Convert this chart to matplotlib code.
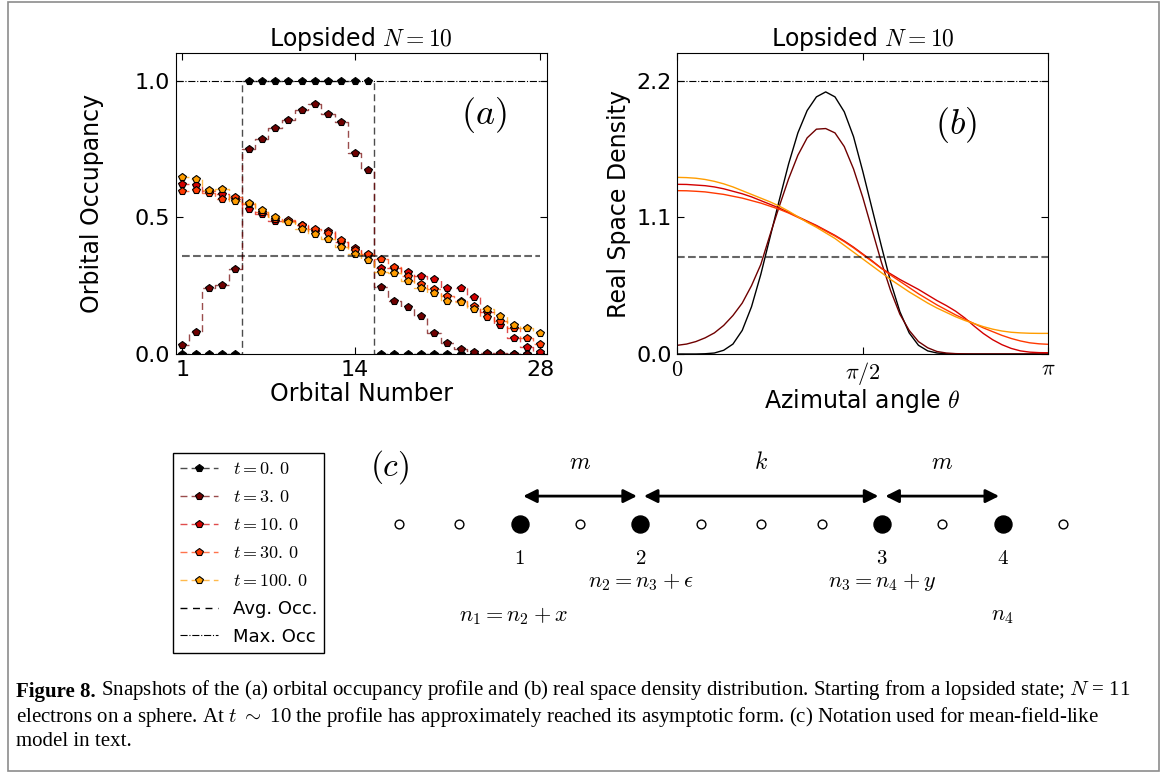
import numpy as np
import matplotlib
matplotlib.use('Agg')
from matplotlib import pyplot as plt
from matplotlib.lines import Line2D
from matplotlib.patches import Rectangle

plt.rcParams['mathtext.fontset'] = 'cm'
plt.rcParams['xtick.direction'] = 'in'
plt.rcParams['ytick.direction'] = 'in'
plt.rcParams['xtick.top'] = True
plt.rcParams['ytick.right'] = True

# === DATA ===
time_labels = ['0.0', '3.0', '10.0', '30.0', '100.0']
colors = ['#000000', '#6f0000', '#d30000', '#ff3900', '#ff9d00']

# panel (a): orbital occupancy per orbital (orbitals 1..28)
orbitals = np.arange(1, 29)
occ_t0 = [0, 0, 0, 0, 0, 1, 1, 1, 1, 1, 1, 1, 1, 1, 1,
          0, 0, 0, 0, 0, 0, 0, 0, 0, 0, 0, 0, 0]
occ_t3 = [0.032, 0.080, 0.243, 0.251, 0.311, 0.749, 0.788, 0.826, 0.855, 0.893,
          0.914, 0.879, 0.849, 0.737, 0.673, 0.244, 0.195, 0.173, 0.138, 0.076,
          0.040, 0.017, 0.007, 0.003, 0.002, 0.001, 0.001, 0.001]
occ_t10 = [0.621, 0.620, 0.595, 0.585, 0.567, 0.529, 0.512, 0.487, 0.487, 0.471,
           0.450, 0.451, 0.410, 0.389, 0.362, 0.313, 0.313, 0.301, 0.285, 0.273,
           0.243, 0.243, 0.207, 0.155, 0.105, 0.060, 0.025, 0.006]
occ_t30 = [0.596, 0.600, 0.590, 0.566, 0.573, 0.550, 0.520, 0.494, 0.490, 0.471,
           0.457, 0.443, 0.416, 0.380, 0.366, 0.346, 0.317, 0.287, 0.256, 0.237,
           0.213, 0.195, 0.174, 0.135, 0.120, 0.094, 0.057, 0.037]
occ_t100 = [0.649, 0.641, 0.600, 0.603, 0.561, 0.554, 0.527, 0.502, 0.483, 0.456,
            0.439, 0.421, 0.393, 0.367, 0.344, 0.301, 0.295, 0.266, 0.241, 0.222,
            0.195, 0.190, 0.165, 0.163, 0.138, 0.107, 0.094, 0.076]
avg_occ = 0.357
max_occ = 1.0

# panel (b): real space density sampled at theta = k*pi/40
theta = np.linspace(0, np.pi, 41)
dens_t0 = [0, 0, 0, 0.002, 0.008, 0.03, 0.08, 0.19, 0.38, 0.64,
           0.94, 1.24, 1.53, 1.78, 1.96, 2.07, 2.11, 2.07, 1.95, 1.75,
           1.47, 1.17, 0.87, 0.58, 0.34, 0.17, 0.07, 0.025, 0.008, 0.002,
           0, 0, 0, 0, 0, 0, 0, 0, 0, 0, 0]
dens_t3 = [0.07, 0.08, 0.10, 0.13, 0.17, 0.23, 0.31, 0.41, 0.55, 0.72,
           0.96, 1.19, 1.41, 1.60, 1.74, 1.81, 1.815, 1.78, 1.67, 1.49,
           1.26, 1.00, 0.74, 0.51, 0.32, 0.19, 0.10, 0.05, 0.02, 0.008,
           0.003, 0.001, 0, 0, 0, 0, 0, 0, 0, 0, 0]
dens_t10 = [1.366, 1.365, 1.36, 1.355, 1.345, 1.33, 1.31, 1.29, 1.265, 1.235,
            1.205, 1.175, 1.14, 1.105, 1.07, 1.035, 0.995, 0.955, 0.91, 0.86,
            0.805, 0.75, 0.69, 0.645, 0.60, 0.56, 0.52, 0.475, 0.43, 0.39,
            0.345, 0.29, 0.225, 0.165, 0.115, 0.075, 0.045, 0.025, 0.015, 0.011,
            0.01]
dens_t30 = [1.315, 1.314, 1.31, 1.305, 1.295, 1.285, 1.27, 1.255, 1.235, 1.215,
            1.19, 1.165, 1.135, 1.10, 1.065, 1.03, 0.99, 0.95, 0.905, 0.855,
            0.80, 0.745, 0.69, 0.635, 0.585, 0.535, 0.485, 0.44, 0.395, 0.355,
            0.315, 0.28, 0.245, 0.21, 0.18, 0.15, 0.125, 0.105, 0.09, 0.082,
            0.078]
dens_t100 = [1.422, 1.42, 1.415, 1.405, 1.39, 1.37, 1.345, 1.315, 1.285, 1.255,
             1.225, 1.19, 1.15, 1.105, 1.06, 1.02, 0.975, 0.93, 0.875, 0.82,
             0.765, 0.71, 0.655, 0.60, 0.55, 0.50, 0.455, 0.41, 0.37, 0.335,
             0.30, 0.27, 0.245, 0.22, 0.20, 0.185, 0.175, 0.17, 0.167, 0.166,
             0.166]
avg_dens = 0.784
max_dens = 2.2

# panel (c): notation sketch
n_sites = 12
filled_sites = [2, 4, 8, 10]
site_labels = ['1', '2', '3', '4']
spans = [(2, 4, 'm'), (4, 8, 'k'), (8, 10, 'm')]
relations = [(4, -1.93, r'$n_2=n_3+\epsilon$'), (8, -1.93, r'$n_3=n_4+y$'),
             (1.9, -3.07, r'$n_1=n_2+x$'), (10, -3.07, r'$n_4$')]

occ_series = [occ_t0, occ_t3, occ_t10, occ_t30, occ_t100]
dens_series = [dens_t0, dens_t3, dens_t10, dens_t30, dens_t100]

W, H = 1168, 774
fig = plt.figure(figsize=(W / 100, H / 100), dpi=100)

# outer frame
fig.patches.append(Rectangle((8 / W, 3 / H), 1151 / W, 769 / H, transform=fig.transFigure,
                             fill=False, edgecolor='#8c8c8c', linewidth=1.2))

# === PANEL (a) ===
ax_a = fig.add_axes([175.7 / W, 1 - 354 / H, 371 / W, 300.6 / H])
handles = []
for occ, col, lab in zip(occ_series, colors, time_labels):
    rgba = matplotlib.colors.to_rgba(col, 0.7)
    ln, = ax_a.plot(orbitals, occ, drawstyle='steps-mid', linestyle=(0, (5, 3)),
                    linewidth=1.0, color=rgba, marker='p', markersize=6,
                    markerfacecolor=col, markeredgecolor='k', markeredgewidth=0.8)
    handles.append(ln)
ax_a.hlines(avg_occ, 1, 28, colors='k', linestyles='--', linewidth=1.5, alpha=0.6)
ax_a.axhline(max_occ, color='k', linestyle='-.', linewidth=0.8)
ax_a.set_xlim(0.5, 28.5)
ax_a.set_ylim(0, 1.1 * max_occ)
ax_a.set_xticks([1, 14, 28])
ax_a.set_yticks([0, 0.5, 1.0])
ax_a.set_yticklabels(['0.0', '0.5', '1.0'])
ax_a.set_xlabel('Orbital Number', fontsize=17, labelpad=2)
ax_a.set_ylabel('Orbital Occupancy', fontsize=17, labelpad=22)
ax_a.set_title(r'Lopsided $N=10$', fontsize=17, pad=4)
ax_a.text(0.83, 0.795, r'$(a)$', transform=ax_a.transAxes, fontsize=26,
          ha='center', va='center')
ax_a.tick_params(labelsize=16, length=5, width=0.8, pad=4)

# === PANEL (b) ===
ax_b = fig.add_axes([677.3 / W, 1 - 354 / H, 371 / W, 300.6 / H])
for dens, col in zip(dens_series, colors):
    ax_b.plot(theta, dens, color=col, linewidth=1.0)
ax_b.axhline(avg_dens, color='k', linestyle='--', linewidth=1.5, alpha=0.6)
ax_b.axhline(max_dens, color='k', linestyle='-.', linewidth=0.8)
ax_b.set_xlim(0, np.pi)
ax_b.set_ylim(0, 1.1 * max_dens)
ax_b.set_xticks([0, np.pi / 2, np.pi])
ax_b.set_xticklabels(['$0$', r'$\pi/2$', r'$\pi$'])
ax_b.set_yticks([0, max_dens / 2, max_dens])
ax_b.set_yticklabels(['0.0', '1.1', '2.2'])
ax_b.set_xlabel(r'Azimutal angle $\theta$', fontsize=17, labelpad=0)
ax_b.set_ylabel('Real Space Density', fontsize=17)
ax_b.set_title(r'Lopsided $N=10$', fontsize=17, pad=4)
ax_b.text(0.75, 0.762, r'$(b)$', transform=ax_b.transAxes, fontsize=26,
          ha='center', va='center')
ax_b.tick_params(labelsize=16, length=5, width=0.8, pad=4)

# === LEGEND ===
handles.append(Line2D([], [], color='k', linestyle=(0, (5, 4)), linewidth=1.0))
handles.append(Line2D([], [], color='k', linestyle='-.', linewidth=0.8))
labels = [f'$t={lab[:-1]}\\,{lab[-1]}$' for lab in time_labels] + ['Avg. Occ.', 'Max. Occ']
leg = fig.legend(handles, labels, loc='upper left', bbox_to_anchor=(173 / W, 1 - 453 / H),
                 fontsize=13, numpoints=1, fancybox=False, framealpha=1,
                 edgecolor='k', borderaxespad=0, labelspacing=0.55, handlelength=2.1)
leg.get_frame().set_linewidth(1.0)

# === PANEL (c) ===
ax_c = fig.add_axes([360 / W, 1 - 650 / H, 740 / W, 210 / H])
ax_c.set_xlim(-0.646, 11.614)
ax_c.set_ylim(-4.2, 2.8)
ax_c.axis('off')
sites = np.arange(n_sites)
empty = [s for s in sites if s not in filled_sites]
ax_c.scatter(empty, np.zeros(len(empty)), s=40, facecolors='white', edgecolors='k',
             linewidths=1.0, zorder=3)
ax_c.scatter(filled_sites, np.zeros(len(filled_sites)), s=150, color='k', zorder=3)
for s, lab in zip(filled_sites, site_labels):
    ax_c.text(s, -1.13, f'${lab}$', fontsize=15, ha='center', va='center')
for a, b, lab in spans:
    ax_c.annotate('', xy=(b, 0.93), xytext=(a, 0.93),
                  arrowprops=dict(arrowstyle='<|-|>', color='k', lw=2,
                                  mutation_scale=20, shrinkA=2.5, shrinkB=2.5))
    ax_c.text((a + b) / 2, 2.07, f'${lab}$', fontsize=17, ha='center', va='center')
for x, y, txt in relations:
    ax_c.text(x, y, txt, fontsize=16, ha='center', va='center')
ax_c.text(-0.15, 1.9, r'$(c)$', fontsize=24, ha='center', va='center')

# === CAPTION ===
cap_font = 'Liberation Serif'
cap_size = 15
bold = fig.text(16 / W, 1 - 697 / H, 'Figure 8.', fontsize=cap_size, fontweight='bold',
                family=cap_font, va='baseline')
rest1 = (' Snapshots of the (a) orbital occupancy profile and (b) real space density '
         'distribution. Starting from a lopsided state; $N$ = 11')
ax_a.annotate(rest1, xy=(1, 0), xycoords=bold, fontsize=cap_size, family=cap_font,
              va='bottom', ha='left', annotation_clip=False)
fig.text(16 / W, 1 - 722 / H, 'electrons on a sphere. At $t$ $\\sim$ 10 the profile has '
         'approximately reached its asymptotic form. (c) Notation used for mean-field-like',
         fontsize=cap_size, family=cap_font, va='baseline')
fig.text(16 / W, 1 - 746 / H, 'model in text.', fontsize=cap_size, family=cap_font,
         va='baseline')

fig.savefig('out.png', dpi=100)
